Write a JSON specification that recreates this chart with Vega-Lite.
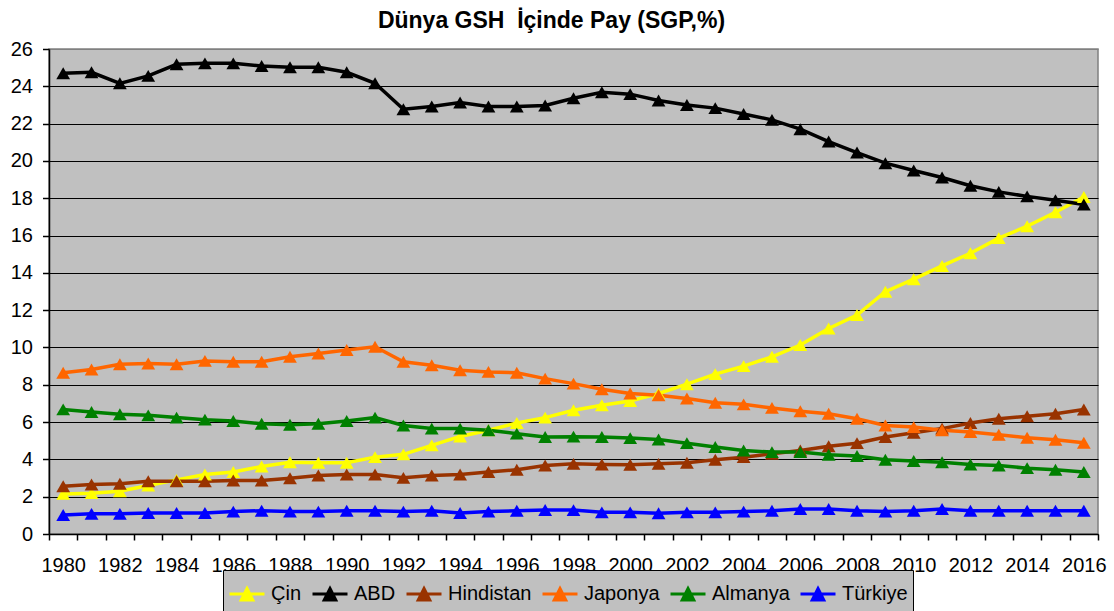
{
  "$schema": "https://vega.github.io/schema/vega-lite/v6.json",
  "width": 1049,
  "height": 485,
  "autosize": {"type": "none"},
  "padding": {"left": 49, "top": 49, "right": 16, "bottom": 77},
  "background": "white",
  "title": {
    "text": "Dünya GSH\u00a0 İçinde Pay (SGP,%)",
    "font": "Liberation Sans",
    "fontSize": 23,
    "fontWeight": "bold",
    "color": "black",
    "offset": 6,
    "dx": -22
  },
  "config": {
    "view": {"fill": "#C0C0C0", "stroke": "#808080", "strokeWidth": 1.5}
  },
  "data": {
    "values": [
      {"year": 1980, "Çin": 2.15, "ABD": 24.70, "Hindistan": 2.56, "Japonya": 8.64, "Almanya": 6.68, "Türkiye": 1.02},
      {"year": 1981, "Çin": 2.19, "ABD": 24.75, "Hindistan": 2.65, "Japonya": 8.82, "Almanya": 6.54, "Türkiye": 1.08},
      {"year": 1982, "Çin": 2.29, "ABD": 24.16, "Hindistan": 2.69, "Japonya": 9.10, "Almanya": 6.42, "Türkiye": 1.08},
      {"year": 1983, "Çin": 2.60, "ABD": 24.56, "Hindistan": 2.83, "Japonya": 9.14, "Almanya": 6.36, "Türkiye": 1.13},
      {"year": 1984, "Çin": 2.90, "ABD": 25.18, "Hindistan": 2.83, "Japonya": 9.10, "Almanya": 6.24, "Türkiye": 1.13},
      {"year": 1985, "Çin": 3.19, "ABD": 25.23, "Hindistan": 2.83, "Japonya": 9.28, "Almanya": 6.13, "Türkiye": 1.13},
      {"year": 1986, "Çin": 3.32, "ABD": 25.23, "Hindistan": 2.87, "Japonya": 9.23, "Almanya": 6.06, "Türkiye": 1.20},
      {"year": 1987, "Çin": 3.62, "ABD": 25.09, "Hindistan": 2.87, "Japonya": 9.23, "Almanya": 5.91, "Türkiye": 1.25},
      {"year": 1988, "Çin": 3.85, "ABD": 25.02, "Hindistan": 2.99, "Japonya": 9.50, "Almanya": 5.86, "Türkiye": 1.20},
      {"year": 1989, "Çin": 3.82, "ABD": 25.02, "Hindistan": 3.14, "Japonya": 9.68, "Almanya": 5.91, "Türkiye": 1.20},
      {"year": 1990, "Çin": 3.82, "ABD": 24.75, "Hindistan": 3.19, "Japonya": 9.86, "Almanya": 6.06, "Türkiye": 1.25},
      {"year": 1991, "Çin": 4.12, "ABD": 24.16, "Hindistan": 3.19, "Japonya": 10.04, "Almanya": 6.24, "Türkiye": 1.25},
      {"year": 1992, "Çin": 4.27, "ABD": 22.77, "Hindistan": 3.01, "Japonya": 9.23, "Almanya": 5.82, "Türkiye": 1.20},
      {"year": 1993, "Çin": 4.75, "ABD": 22.92, "Hindistan": 3.14, "Japonya": 9.05, "Almanya": 5.65, "Türkiye": 1.25},
      {"year": 1994, "Çin": 5.23, "ABD": 23.13, "Hindistan": 3.19, "Japonya": 8.78, "Almanya": 5.65, "Türkiye": 1.13},
      {"year": 1995, "Çin": 5.56, "ABD": 22.92, "Hindistan": 3.32, "Japonya": 8.69, "Almanya": 5.56, "Türkiye": 1.20},
      {"year": 1996, "Çin": 5.95, "ABD": 22.92, "Hindistan": 3.44, "Japonya": 8.64, "Almanya": 5.38, "Türkiye": 1.25},
      {"year": 1997, "Çin": 6.24, "ABD": 22.97, "Hindistan": 3.67, "Japonya": 8.33, "Almanya": 5.20, "Türkiye": 1.29},
      {"year": 1998, "Çin": 6.63, "ABD": 23.36, "Hindistan": 3.76, "Japonya": 8.06, "Almanya": 5.22, "Türkiye": 1.28},
      {"year": 1999, "Çin": 6.90, "ABD": 23.68, "Hindistan": 3.73, "Japonya": 7.76, "Almanya": 5.20, "Türkiye": 1.16},
      {"year": 2000, "Çin": 7.13, "ABD": 23.58, "Hindistan": 3.71, "Japonya": 7.53, "Almanya": 5.14, "Türkiye": 1.16},
      {"year": 2001, "Çin": 7.53, "ABD": 23.24, "Hindistan": 3.76, "Japonya": 7.44, "Almanya": 5.07, "Türkiye": 1.11},
      {"year": 2002, "Çin": 8.03, "ABD": 23.00, "Hindistan": 3.82, "Japonya": 7.26, "Almanya": 4.87, "Türkiye": 1.16},
      {"year": 2003, "Çin": 8.57, "ABD": 22.83, "Hindistan": 3.98, "Japonya": 7.04, "Almanya": 4.66, "Türkiye": 1.16},
      {"year": 2004, "Çin": 9.00, "ABD": 22.52, "Hindistan": 4.12, "Japonya": 6.95, "Almanya": 4.48, "Türkiye": 1.20},
      {"year": 2005, "Çin": 9.50, "ABD": 22.20, "Hindistan": 4.30, "Japonya": 6.76, "Almanya": 4.39, "Türkiye": 1.25},
      {"year": 2006, "Çin": 10.13, "ABD": 21.70, "Hindistan": 4.48, "Japonya": 6.58, "Almanya": 4.39, "Türkiye": 1.34},
      {"year": 2007, "Çin": 11.02, "ABD": 21.04, "Hindistan": 4.70, "Japonya": 6.45, "Almanya": 4.25, "Türkiye": 1.34},
      {"year": 2008, "Çin": 11.74, "ABD": 20.45, "Hindistan": 4.87, "Japonya": 6.18, "Almanya": 4.18, "Türkiye": 1.25},
      {"year": 2009, "Çin": 12.99, "ABD": 19.88, "Hindistan": 5.20, "Japonya": 5.82, "Almanya": 3.98, "Türkiye": 1.20},
      {"year": 2010, "Çin": 13.66, "ABD": 19.49, "Hindistan": 5.43, "Japonya": 5.73, "Almanya": 3.91, "Türkiye": 1.25},
      {"year": 2011, "Çin": 14.37, "ABD": 19.11, "Hindistan": 5.65, "Japonya": 5.56, "Almanya": 3.85, "Türkiye": 1.34},
      {"year": 2012, "Çin": 15.05, "ABD": 18.67, "Hindistan": 5.95, "Japonya": 5.47, "Almanya": 3.73, "Türkiye": 1.25},
      {"year": 2013, "Çin": 15.86, "ABD": 18.34, "Hindistan": 6.18, "Japonya": 5.32, "Almanya": 3.67, "Türkiye": 1.25},
      {"year": 2014, "Çin": 16.50, "ABD": 18.10, "Hindistan": 6.31, "Japonya": 5.16, "Almanya": 3.53, "Türkiye": 1.25},
      {"year": 2015, "Çin": 17.25, "ABD": 17.89, "Hindistan": 6.45, "Japonya": 5.05, "Almanya": 3.44, "Türkiye": 1.25},
      {"year": 2016, "Çin": 18.07, "ABD": 17.66, "Hindistan": 6.67, "Japonya": 4.89, "Almanya": 3.32, "Türkiye": 1.25}
    ]
  },
  "transform": [
    {"fold": ["Çin", "ABD", "Hindistan", "Japonya", "Almanya", "Türkiye"], "as": ["ulke", "pay"]}
  ],
  "mark": {
    "type": "line",
    "strokeWidth": 3.5,
    "point": {"shape": "triangle-up", "size": 190, "filled": true, "opacity": 1}
  },
  "encoding": {
    "x": {
      "field": "year",
      "type": "quantitative",
      "scale": {"domain": [1979.5, 2016.5], "nice": false, "zero": false},
      "axis": {
        "title": null,
        "values": [1979.5, 1980.5, 1981.5, 1982.5, 1983.5, 1984.5, 1985.5, 1986.5, 1987.5, 1988.5, 1989.5, 1990.5, 1991.5, 1992.5, 1993.5, 1994.5, 1995.5, 1996.5, 1997.5, 1998.5, 1999.5, 2000.5, 2001.5, 2002.5, 2003.5, 2004.5, 2005.5, 2006.5, 2007.5, 2008.5, 2009.5, 2010.5, 2011.5, 2012.5, 2013.5, 2014.5, 2015.5, 2016.5],
        "labelExpr": "(datum.value + 0.5) % 2 == 0 ? format(datum.value + 0.5, 'd') : ''",
        "labelOffset": 14.17,
        "labelFlush": false,
        "labelOverlap": false,
        "labelBound": false,
        "grid": false,
        "tickSize": 6,
        "tickColor": "black",
        "tickWidth": 1.5,
        "domainColor": "black",
        "domainWidth": 1.5,
        "labelFont": "Liberation Sans",
        "labelFontSize": 20,
        "labelColor": "black",
        "labelPadding": 15
      }
    },
    "y": {
      "field": "pay",
      "type": "quantitative",
      "scale": {"domain": [0, 26], "nice": false},
      "axis": {
        "title": null,
        "values": [0, 2, 4, 6, 8, 10, 12, 14, 16, 18, 20, 22, 24, 26],
        "grid": true,
        "gridColor": {"condition": {"test": "datum.value === 26", "value": "#808080"}, "value": "black"},
        "gridWidth": 1.2,
        "tickSize": 6.5,
        "tickColor": "black",
        "tickWidth": 1.5,
        "domainColor": "black",
        "domainWidth": 1.5,
        "labelFont": "Liberation Sans",
        "labelFontSize": 20,
        "labelColor": "black",
        "labelPadding": 10
      }
    },
    "color": {
      "field": "ulke",
      "type": "nominal",
      "scale": {
        "domain": ["Çin", "ABD", "Hindistan", "Japonya", "Almanya", "Türkiye"],
        "range": ["#FFFF00", "#000000", "#993300", "#FF6600", "#008000", "#0000FF"]
      },
      "legend": {
        "title": null,
        "orient": "none",
        "legendX": 174,
        "legendY": 521,
        "direction": "horizontal",
        "fillColor": "#C0C0C0",
        "strokeColor": "black",
        "padding": 5,
        "symbolType": "M-1,0L1,0M0,-0.32L0.33,0.33L-0.33,0.33Z",
        "symbolSize": 1225,
        "symbolStrokeWidth": 3,
        "labelFont": "Liberation Sans",
        "labelFontSize": 20,
        "labelColor": "black",
        "labelOffset": 5,
        "columnPadding": 4,
        "encode": {
          "symbols": {
            "update": {
              "fill": {"scale": "color", "field": "value"},
              "stroke": {"scale": "color", "field": "value"},
              "opacity": {"value": 1}
            }
          }
        }
      }
    }
  }
}
